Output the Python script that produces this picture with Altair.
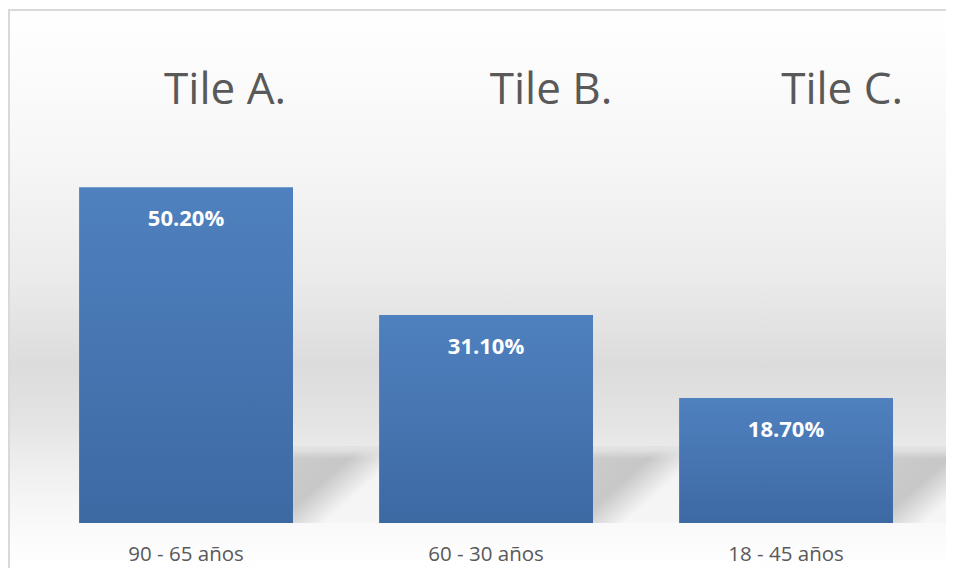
import altair as alt
import pandas as pd

categories = ["90 - 65 años", "60 - 30 años", "18 - 45 años"]
values = [50.2, 31.1, 18.7]
labels = ["50.20%", "31.10%", "18.70%"]
tiles = ["Tile A.", "Tile B.", "Tile C."]
tile_dx = [39, 65, 56]

df = pd.DataFrame({"cat": categories, "val": values, "label": labels, "tile": tiles})

W, H, PB = 938, 515, 45
TOTAL_H = H + PB
FONT = "Open Sans"
GRAY = "#595959"

xscale = alt.Scale(domain=categories, paddingInner=0.287, paddingOuter=0.2068, align=0.573)
yscale = alt.Scale(domain=[0, 77])
X = alt.X("cat:N", scale=xscale, axis=None, sort=categories)
Y = alt.Y("val:Q", scale=yscale, axis=None)


def grad(pairs, x1=0, y1=0, x2=0, y2=1):
    return {
        "gradient": "linear", "x1": x1, "y1": y1, "x2": x2, "y2": y2,
        "stops": [{"offset": o, "color": c} for o, c in pairs],
    }


bg_grad = grad([
    (0.0, "#ffffff"), (0.25, "#f7f7f7"), (0.48, "#ebebeb"),
    (0.64, "#dcdcdc"), (0.74, "#e4e4e4"), (0.83, "#f0f0f0"),
    (0.93, "#fafafa"), (1.0, "#ffffff"),
])
bg = alt.Chart(df).mark_rect(fill=bg_grad).encode(
    x=alt.value(0), x2=alt.value(W), y=alt.value(0), y2=alt.value(TOTAL_H)
)

frame = alt.Chart(df).mark_rect(fillOpacity=0, stroke="#d9d9d9", strokeWidth=2).encode(
    x=alt.value(1), x2=alt.value(W + 40), y=alt.value(2), y2=alt.value(TOTAL_H + 40)
)

shadow_grad = grad([
    (0.0, "#c6c6c6"), (0.4, "#c0c0c0"),
    (0.55, "#dcdcdc"), (0.68, "#f5f5f5"), (1.0, "#f5f5f5"),
], x1=0, y1=0, x2=1, y2=1)
shadow_base = alt.Chart(df).transform_calculate(stop="11.4", sbase="0")
shadow = shadow_base.mark_bar(
    width=86, xOffset=150, fill=shadow_grad, opacity=0.85
).encode(x=X, y=alt.Y("stop:Q", scale=yscale, axis=None), y2="sbase:Q")

fade_grad = grad([
    (0.0, "rgba(228,228,228,1)"), (0.05, "rgba(228,228,228,0.8)"),
    (0.16, "rgba(228,228,228,0)"), (1.0, "rgba(228,228,228,0)"),
])
shadow_fade = shadow_base.mark_bar(
    width=86, xOffset=150, fill=fade_grad
).encode(x=X, y=alt.Y("stop:Q", scale=yscale, axis=None), y2="sbase:Q")

bar_grad = grad([(0.0, "#4f81bf"), (1.0, "#3d69a3")])
bars = alt.Chart(df).mark_bar(fill=bar_grad).encode(x=X, y=Y)

vlabels = alt.Chart(df).mark_text(
    color="white", fontWeight="bold", fontSize=22, font=FONT, baseline="alphabetic", dy=39
).encode(x=X, y=Y, text="label:N")

clabels = alt.Chart(df).mark_text(
    color=GRAY, fontSize=20.5, font=FONT, baseline="alphabetic"
).encode(x=X, y=alt.value(553), text="cat:N")

title_layers = []
for t, d in zip(tiles, tile_dx):
    title_layers.append(
        alt.Chart(df).transform_filter(alt.datum.tile == t).mark_text(
            color=GRAY, fontSize=44, font=FONT, baseline="alphabetic", dx=d
        ).encode(x=X, y=alt.value(96), text="tile:N")
    )

chart = alt.layer(bg, frame, shadow, shadow_fade, bars, vlabels, clabels, *title_layers).properties(
    width=W, height=H,
    autosize=alt.AutoSizeParams(type="none"),
    padding={"left": 0, "top": 0, "right": 0, "bottom": PB},
).configure_view(stroke=None)

chart.save("out.html", embed_options={"renderer": "svg", "actions": False})
